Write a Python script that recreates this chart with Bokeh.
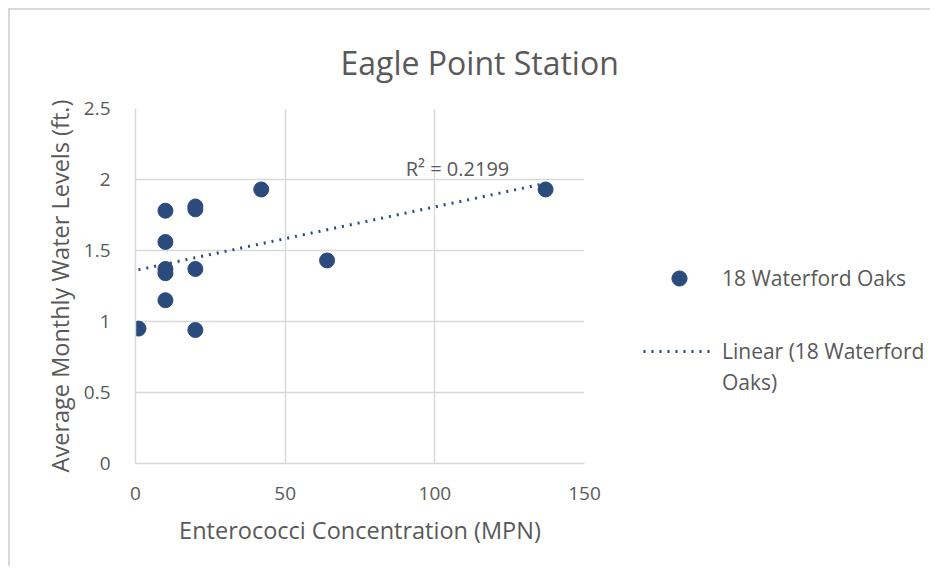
from bokeh.plotting import figure
from bokeh.layouts import row
from bokeh.models import Range1d, FixedTicker, Label, Legend, LegendItem, Title
from bokeh.embed import file_html
from bokeh.resources import INLINE
import numpy as np

# ---- data ----
concentration = [1, 10, 10, 10, 10, 10, 20, 20, 20, 20, 42, 64, 137]
water_level = [0.95, 1.78, 1.56, 1.37, 1.34, 1.15, 1.81, 1.79, 1.37, 0.94, 1.93, 1.43, 1.93]
x_ticks = [0, 50, 100, 150]
x_tick_labels = ["0", "50", "100", "150"]
y_ticks = [0, 0.5, 1, 1.5, 2, 2.5]
y_tick_labels = ["0", "0.5", "1", "1.5", "2", "2.5"]
series_name = "18 Waterford Oaks"
trend_name_lines = ["Linear (18 Waterford", "Oaks)"]
r2_text = "R² = 0.2199"
title_text = "Eagle Point Station"
x_title = "Enterococci Concentration (MPN)"
y_title = "Average Monthly Water Levels (ft.)"

FONT = "Open Sans"
TXT = "#595959"
GRID = "#D9D9D9"
DOT = "#2B4B7D"
H = 558

p = figure(width=630, height=H, output_backend="svg", toolbar_location=None,
           x_range=Range1d(0, 150), y_range=Range1d(0, 2.5),
           min_border_left=125, min_border_right=56, min_border_top=98, min_border_bottom=105)
p.styles = {"margin-left": "8px", "margin-top": "8px",
            "border-top": "2px solid #D9D9D9", "border-left": "2px solid #D9D9D9"}
p.outline_line_color = None

for ax, ticks, labels in ((p.xaxis[0], x_ticks, x_tick_labels), (p.yaxis[0], y_ticks, y_tick_labels)):
    ax.ticker = FixedTicker(ticks=ticks)
    ax.major_label_overrides = {t: l for t, l in zip(ticks, labels)}
    ax.major_tick_line_color = None
    ax.minor_tick_line_color = None
    ax.axis_line_color = GRID
    ax.axis_line_width = 1.5
    ax.major_label_text_font = FONT
    ax.major_label_text_font_size = "19px"
    ax.major_label_text_color = TXT
    ax.axis_label_text_font = FONT
    ax.axis_label_text_font_size = "23.5px"
    ax.axis_label_text_color = TXT
    ax.axis_label_text_font_style = "normal"

p.xaxis.axis_label = x_title
p.yaxis.axis_label = y_title
p.xaxis.major_label_standoff = 17
p.xaxis.axis_label_standoff = 11
p.yaxis.major_label_standoff = 19
p.yaxis.axis_label_standoff = 5

p.xgrid.ticker = FixedTicker(ticks=x_ticks)
p.ygrid.ticker = FixedTicker(ticks=y_ticks)
for g in (p.xgrid[0], p.ygrid[0]):
    g.grid_line_color = GRID
    g.grid_line_width = 1.5

# linear trendline computed from the data
xs = np.array(concentration, dtype=float)
ys = np.array(water_level, dtype=float)
slope, intercept = np.polyfit(xs, ys, 1)
tx = np.array([xs.min(), xs.max()])
ty = slope * tx + intercept

trend = p.line(tx, ty, line_color=DOT, line_width=3, line_dash="2 6")
pts = p.scatter(concentration, water_level, size=15, fill_color=DOT, line_color=DOT)

p.add_layout(Title(text=title_text, align="left", offset=205, standoff=46,
                   vertical_align="top",
                   text_font=FONT, text_font_size="32px", text_color=TXT,
                   text_font_style="normal"), "above")
p.add_layout(Label(x=322, y=295, x_units="screen", y_units="screen", text=r2_text,
                   text_align="center", text_baseline="middle", text_font=FONT,
                   text_font_size="20px", text_color=TXT))

# ---- legend panel (separate canvas to the right of the chart) ----
leg = figure(width=292, height=H, output_backend="svg", toolbar_location=None,
             x_range=Range1d(0, 1), y_range=Range1d(0, 1),
             x_axis_location=None, y_axis_location=None, min_border=0)
leg.styles = {"margin-top": "8px", "border-top": "2px solid #D9D9D9"}
leg.outline_line_color = None
leg.xgrid.visible = False
leg.ygrid.visible = False
# hidden copies of the series, used only to draw the legend samples
leg_pts = leg.scatter(concentration, water_level, size=15, fill_color=DOT, line_color=DOT, visible=False)
leg_trend = leg.line(tx, ty, line_color=DOT, line_width=3, line_dash="2 6", visible=False)
leg_blank = leg.scatter(concentration, water_level, size=1, fill_alpha=0, line_alpha=0, visible=False)

common = dict(padding=0, margin=0, glyph_width=72, label_standoff=7,
              border_line_color=None, background_fill_alpha=0, inactive_fill_alpha=0,
              label_text_font=FONT, label_text_font_size="21px", label_text_color=TXT)
legA = Legend(items=[LegendItem(label=series_name, renderers=[leg_pts])],
              location=(5, 166), glyph_height=38, **common)
legB = Legend(items=[LegendItem(label=trend_name_lines[0], renderers=[leg_trend]),
                     LegendItem(label=trend_name_lines[1], renderers=[leg_blank])],
              location=(5, 67), spacing=3, glyph_height=20, **common)
leg.add_layout(legA)
leg.add_layout(legB)

layout = row(p, leg, spacing=0)
open("out.html", "w").write(file_html(layout, INLINE))
